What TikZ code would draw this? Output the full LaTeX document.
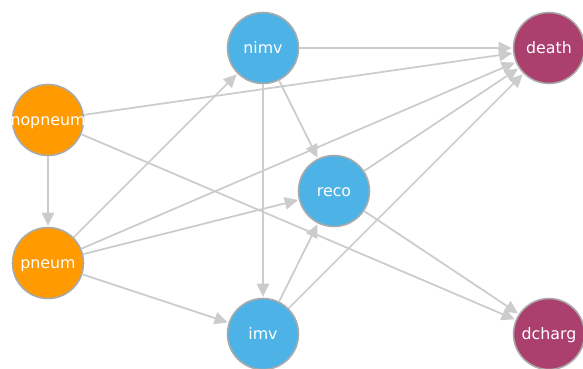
\documentclass[tikz,border=0pt]{standalone}
\usepackage{fontspec}
\setmainfont{DejaVu Sans}
\usepackage{tikz}
\usetikzlibrary{arrows.meta}
\definecolor{orangenode}{HTML}{FF9A00}
\definecolor{bluenode}{HTML}{4DB3E6}
\definecolor{rednode}{HTML}{AB3F6E}
\definecolor{rimgray}{HTML}{AAAAAA}
\definecolor{edgegray}{HTML}{CCCCCC}
\newcommand{\vname}[1]{\makebox[0pt][c]{\raisebox{-3.2pt}[0pt][0pt]{#1}}}
\tikzset{
  state/.style={circle, draw=rimgray, line width=0.9pt, minimum size=1.42cm, inner sep=0pt,
    text=white, font=\fontsize{9}{10}\selectfont},
  cause/.style={state, fill=orangenode},
  mid/.style={state, fill=bluenode},
  outcome/.style={state, fill=rednode},
  edge/.style={draw=edgegray, line width=1pt, -{Triangle[length=7.5pt,width=7pt]}, shorten >=0.5pt}
}
\begin{document}
\begin{tikzpicture}[x=0.02cm, y=-0.02cm]
\useasboundingbox (0,0) rectangle (583,369);
\node[cause](nopneum) at (48,120) {\vname{nopneum}};
\node[cause](pneum) at (48,263) {\vname{pneum}};
\node[mid](nimv) at (263,48) {\vname{nimv}};
\node[mid](reco) at (334,191) {\vname{reco}};
\node[mid](imv) at (263,334) {\vname{imv}};
\node[outcome](death) at (549,48) {\vname{death}};
\node[outcome](dcharg) at (549,334) {\vname{dcharg}};
%
\draw[edge](nopneum) -- (pneum);
\draw[edge](nopneum) -- (death);
\draw[edge](nopneum) -- (dcharg);
\draw[edge](pneum) -- (nimv);
\draw[edge](pneum) -- (death);
\draw[edge](pneum) -- (reco);
\draw[edge](pneum) -- (imv);
\draw[edge](nimv) -- (death);
\draw[edge](nimv) -- (reco);
\draw[edge](nimv) -- (imv);
\draw[edge](reco) -- (death);
\draw[edge](reco) -- (dcharg);
\draw[edge](imv) -- (reco);
\draw[edge](imv) -- (death);
\end{tikzpicture}
\end{document}
